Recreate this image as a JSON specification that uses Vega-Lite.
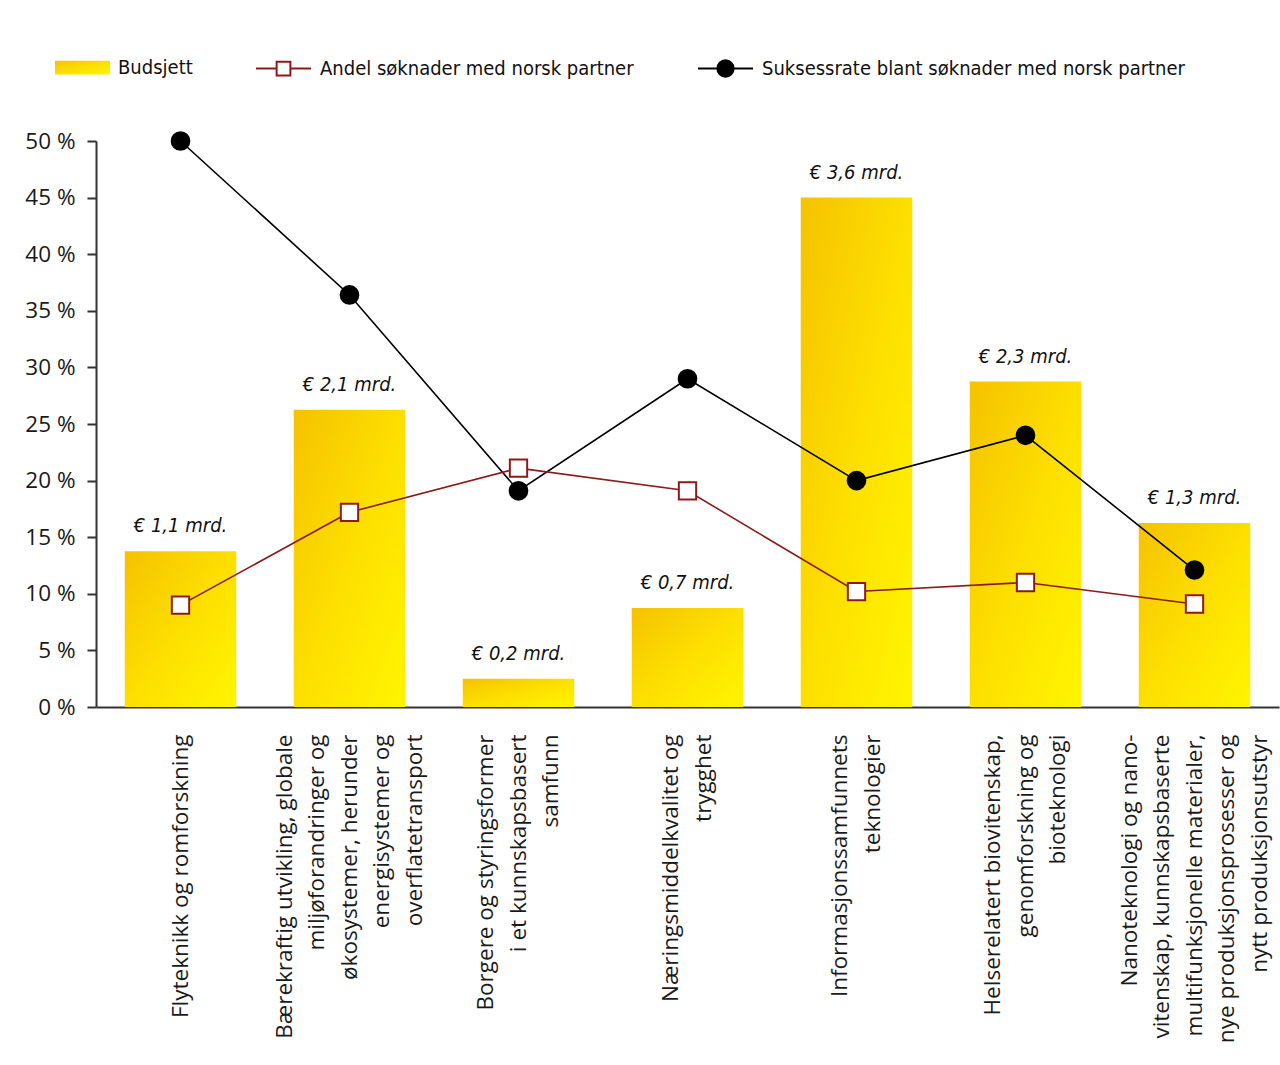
{
  "$schema": "https://vega.github.io/schema/vega-lite/v6.json",
  "autosize": "none",
  "width": 1183,
  "height": 566,
  "padding": {"left": 96, "top": 141, "right": 1, "bottom": 358},
  "background": "white",
  "config": {
    "view": {"stroke": null},
    "locale": {
      "number": {"decimal": ",", "thousands": " ", "grouping": [3], "currency": ["€ ", " mrd."]}
    },
    "axis": {
      "labelFont": "Open Sans",
      "labelColor": "#1a1a1a",
      "domainColor": "#333333",
      "domainWidth": 2,
      "tickColor": "#333333",
      "tickWidth": 2,
      "grid": false,
      "title": null
    },
    "legend": {
      "title": null,
      "orient": "none",
      "legendY": -101,
      "padding": 0,
      "symbolSize": 3025,
      "labelFont": "DejaVu Sans Condensed, Roboto, sans-serif",
      "labelFontSize": 20,
      "labelColor": "#111111",
      "labelOffset": 8,
      "labelLimit": 800
    }
  },
  "data": {
    "values": [
      {"tema": "Flyteknikk og romforskning", "budsjett": 1.1, "andel": 9.0, "suksess": 50.0},
      {"tema": "Bærekraftig utvikling, globale|miljøforandringer og|økosystemer, herunder|energisystemer og|overflatetransport", "budsjett": 2.1, "andel": 17.2, "suksess": 36.4},
      {"tema": "Borgere og styringsformer|i et kunnskapsbasert|samfunn", "budsjett": 0.2, "andel": 21.1, "suksess": 19.1},
      {"tema": "Næringsmiddelkvalitet og|trygghet", "budsjett": 0.7, "andel": 19.1, "suksess": 29.0},
      {"tema": "Informasjonssamfunnets|teknologier", "budsjett": 3.6, "andel": 10.2, "suksess": 20.0},
      {"tema": "Helserelatert biovitenskap,|genomforskning og|bioteknologi", "budsjett": 2.3, "andel": 11.0, "suksess": 24.0},
      {"tema": "Nanoteknologi og nano-|vitenskap, kunnskapsbaserte|multifunksjonelle materialer,|nye produksjonsprosesser og|nytt produksjonsutstyr", "budsjett": 1.3, "andel": 9.1, "suksess": 12.1}
    ]
  },
  "encoding": {
    "x": {
      "field": "tema",
      "type": "nominal",
      "sort": null,
      "scale": {"paddingInner": 0.34, "paddingOuter": 0.17},
      "axis": {
        "labelExpr": "split(datum.label, '|')",
        "labelAngle": -90,
        "labelAlign": "right",
        "labelBaseline": "middle",
        "labelOffset": {"expr": "-(length(split(datum.label, '|')) - 1) * 16.25"},
        "labelFontSize": 22.5,
        "labelLineHeight": 32.5,
        "labelPadding": 27,
        "ticks": false,
        "labelLimit": 1000,
        "labelOverlap": false,
        "labelBound": false
      }
    }
  },
  "layer": [
    {
      "encoding": {
        "y": {"field": "budsjett", "type": "quantitative", "scale": {"domain": [0, 4], "nice": false}, "axis": null}
      },
      "layer": [
        {
          "mark": {
            "type": "bar",
            "strokeWidth": 0,
            "fill": {
              "gradient": "linear",
              "x1": 0, "y1": 0, "x2": 1, "y2": 1,
              "stops": [
                {"offset": 0, "color": "#f5c200"},
                {"offset": 0.5, "color": "#fddf00"},
                {"offset": 1, "color": "#fff500"}
              ]
            }
          },
          "encoding": {
            "opacity": {
              "datum": "Budsjett",
              "scale": {"range": [1, 1]},
              "legend": {
                "legendX": -41,
                "symbolType": "M-1,-0.25H1V0.25H-1Z",
                "symbolStrokeWidth": 0
              }
            }
          }
        },
        {
          "mark": {
            "type": "text",
            "font": "DejaVu Sans Condensed, Roboto, sans-serif",
            "fontStyle": "italic",
            "fontSize": 20,
            "baseline": "alphabetic",
            "dy": -19,
            "color": "#111111"
          },
          "encoding": {
            "text": {"field": "budsjett", "type": "quantitative", "format": "$.1f"}
          }
        }
      ]
    },
    {
      "layer": [
        {
          "mark": {"type": "line", "strokeWidth": 1.6, "color": "#000000"},
          "encoding": {
            "y": {
              "field": "suksess", "type": "quantitative",
              "scale": {"domain": [0, 50], "nice": false},
              "axis": {"orient": "left", "values": [0, 5, 10, 15, 20, 25, 30, 35, 40, 45, 50], "labelExpr": "datum.value + ' %'", "tickSize": 9, "labelPadding": 12, "labelFontSize": 22.5}
            }
          }
        },
        {
          "mark": {"type": "line", "strokeWidth": 1.6, "color": "#8b1a1a"},
          "encoding": {
            "y": {"field": "andel", "type": "quantitative"}
          }
        },
        {
          "mark": {"type": "point", "shape": "circle", "filled": true, "fill": "#000000", "stroke": "#000000", "size": 320, "opacity": 1},
          "encoding": {
            "y": {"field": "suksess", "type": "quantitative"},
            "strokeWidth": {
              "datum": "Suksessrate blant søknader med norsk partner",
              "scale": {"range": [1.8, 1.8]},
              "legend": {
                "legendX": 601,
                "symbolType": "M-1,0H1M-0.3,0A0.3,0.3,0,1,0,0.3,0A0.3,0.3,0,1,0,-0.3,0Z"
              }
            }
          }
        },
        {
          "mark": {"type": "point", "shape": "square", "filled": true, "fill": "#ffffff", "stroke": "#8b1a1a", "size": 300, "strokeWidth": 2, "opacity": 1},
          "encoding": {
            "y": {"field": "andel", "type": "quantitative"},
            "strokeDash": {
              "datum": "Andel søknader med norsk partner",
              "scale": {"range": [[1, 0]]},
              "legend": {
                "legendX": 159,
                "symbolType": "M-1,0H-0.25M0.25,0H1M-0.25,-0.25H0.25V0.25H-0.25Z",
                "symbolStrokeWidth": 2
              }
            }
          }
        }
      ]
    }
  ],
  "resolve": {"scale": {"y": "independent"}}
}
